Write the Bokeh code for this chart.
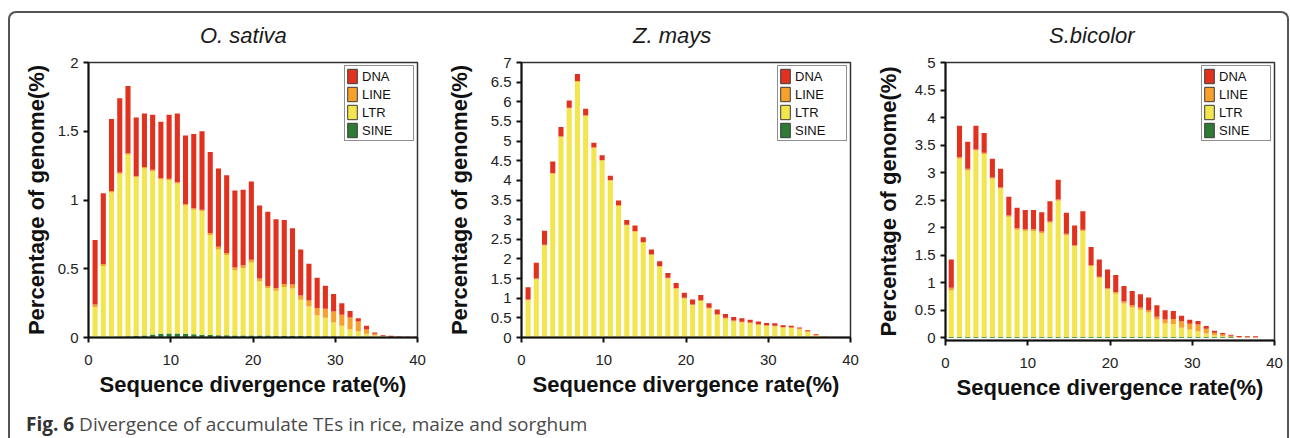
from bokeh.plotting import figure
from bokeh.layouts import row, column
from bokeh.models import (ColumnDataSource, Legend, LegendItem, FixedTicker,
                          NumeralTickFormatter, Div)
from bokeh.transform import dodge
from bokeh.embed import file_html
from bokeh.resources import INLINE

# ---------------- data ----------------
types = ["SINE", "LTR", "LINE", "DNA"]
colors = {"DNA": "#E1321F", "LINE": "#F7A12C", "LTR": "#F2E54D", "SINE": "#2E7B33"}
x_ticks = [0, 10, 20, 30, 40]
titles = ["O. sativa", "Z. mays", "S.bicolor"]

bins_sativa = list(range(1, 41))
sativa_sine = [0.005, 0.005, 0.006, 0.008, 0.010, 0.012, 0.015, 0.022, 0.028, 0.030,
               0.030, 0.028, 0.024, 0.020, 0.018, 0.016, 0.016, 0.015, 0.015, 0.015,
               0.015, 0.014, 0.013, 0.013, 0.012, 0.012, 0.011, 0.010, 0.010, 0.009,
               0.008, 0.007, 0.006, 0.005, 0.004, 0.003, 0.001, 0.001, 0.0, 0.0]
sativa_ltr = [0.215, 0.515, 1.049, 1.182, 1.320, 1.153, 1.215, 1.188, 1.122, 1.115,
              1.090, 0.932, 0.906, 0.900, 0.727, 0.624, 0.584, 0.475, 0.490, 0.531,
              0.395, 0.346, 0.327, 0.354, 0.345, 0.263, 0.214, 0.152, 0.133, 0.101,
              0.077, 0.053, 0.040, 0.022, 0.011, 0.004, 0.002, 0.001, 0.001, 0.001]
sativa_line = [0.020, 0.015, 0.010, 0.010, 0.010, 0.010, 0.010, 0.010, 0.010, 0.010,
               0.010, 0.010, 0.010, 0.010, 0.015, 0.020, 0.015, 0.020, 0.020, 0.019,
               0.020, 0.015, 0.020, 0.023, 0.028, 0.030, 0.045, 0.053, 0.067, 0.080,
               0.080, 0.085, 0.070, 0.031, 0.012, 0.005, 0.003, 0.001, 0.001, 0.001]
sativa_dna = [0.470, 0.515, 0.525, 0.540, 0.490, 0.425, 0.390, 0.400, 0.410, 0.465,
              0.500, 0.500, 0.540, 0.570, 0.590, 0.570, 0.565, 0.560, 0.550, 0.570,
              0.530, 0.540, 0.500, 0.465, 0.410, 0.335, 0.266, 0.220, 0.167, 0.127,
              0.085, 0.048, 0.024, 0.027, 0.009, 0.007, 0.006, 0.005, 0.004, 0.004]
sativa_yticks = [0, 0.5, 1, 1.5, 2]

bins_mays = list(range(1, 41))
mays_sine = [0, 0, 0, 0, 0, 0, 0, 0, 0, 0,
             0, 0, 0, 0, 0, 0, 0, 0, 0, 0.015,
             0, 0, 0.015, 0, 0, 0, 0, 0, 0, 0,
             0, 0, 0, 0, 0, 0, 0, 0, 0, 0]
mays_ltr = [0.95, 1.48, 2.34, 4.17, 5.10, 5.83, 6.51, 5.64, 4.82, 4.50,
            3.99, 3.35, 2.85, 2.69, 2.41, 2.10, 1.80, 1.50, 1.24, 0.975,
            0.82, 0.93, 0.725, 0.57, 0.48, 0.41, 0.38, 0.36, 0.32, 0.29,
            0.28, 0.25, 0.24, 0.21, 0.14, 0.045, 0.015, 0.002, 0.002, 0.002]
mays_line = [0.02, 0.02, 0.02, 0.02, 0.02, 0.02, 0.02, 0.02, 0.02, 0.02,
             0.02, 0.02, 0.02, 0.02, 0.02, 0.02, 0.02, 0.02, 0.02, 0.02,
             0.02, 0.02, 0.02, 0.02, 0.02, 0.02, 0.02, 0.02, 0.02, 0.02,
             0.02, 0.02, 0.02, 0.02, 0.02, 0.02, 0.015, 0.002, 0.002, 0.002]
mays_dna = [0.31, 0.40, 0.36, 0.29, 0.24, 0.18, 0.18, 0.16, 0.12, 0.12,
            0.11, 0.12, 0.12, 0.14, 0.12, 0.12, 0.12, 0.12, 0.13, 0.13,
            0.13, 0.13, 0.115, 0.12, 0.10, 0.095, 0.09, 0.075, 0.07, 0.06,
            0.065, 0.045, 0.04, 0.025, 0.025, 0.015, 0.005, 0.008, 0.008, 0.008]
mays_yticks = [0, 0.5, 1, 1.5, 2, 2.5, 3, 3.5, 4, 4.5, 5, 5.5, 6, 6.5, 7]

bins_bicolor = list(range(1, 39))
bicolor_sine = [0.012, 0.012, 0.012, 0.012, 0.012, 0.012, 0.012, 0.012, 0.012, 0.012,
                0.012, 0.012, 0.012, 0.012, 0.012, 0.012, 0.012, 0.012, 0.012, 0.012,
                0.012, 0.012, 0.012, 0.012, 0.012, 0.012, 0.012, 0.012, 0.012, 0.012,
                0.012, 0.012, 0.012, 0.012, 0.012, 0.003, 0.003, 0.003]
bicolor_ltr = [0.848, 3.238, 3.028, 3.388, 3.328, 2.878, 2.698, 2.188, 1.948, 1.928,
               1.928, 1.888, 2.078, 2.478, 1.848, 1.648, 1.928, 1.288, 1.078, 0.868,
               0.788, 0.608, 0.538, 0.498, 0.448, 0.318, 0.248, 0.238, 0.168, 0.138,
               0.108, 0.063, 0.033, 0.016, 0.003, 0.002, 0.001, 0.001]
bicolor_line = [0.05, 0.03, 0.03, 0.02, 0.02, 0.02, 0.02, 0.02, 0.03, 0.03,
                0.03, 0.03, 0.02, 0.02, 0.03, 0.02, 0.02, 0.02, 0.02, 0.02,
                0.03, 0.04, 0.04, 0.04, 0.04, 0.05, 0.07, 0.09, 0.12, 0.105,
                0.12, 0.09, 0.045, 0.032, 0.02, 0.01, 0.004, 0.004]
bicolor_dna = [0.51, 0.57, 0.49, 0.43, 0.36, 0.34, 0.34, 0.34, 0.37, 0.35,
               0.35, 0.35, 0.37, 0.36, 0.38, 0.36, 0.34, 0.33, 0.31, 0.34,
               0.31, 0.28, 0.26, 0.24, 0.23, 0.21, 0.17, 0.145, 0.10, 0.072,
               0.065, 0.05, 0.035, 0.025, 0.02, 0.017, 0.02, 0.02]
bicolor_yticks = [0, 0.5, 1, 1.5, 2, 2.5, 3, 3.5, 4, 4.5, 5]

FONT = "Liberation Sans"


def panel(bins, sine, ltr, line, dna, yticks, y_range, frame_h,
          mb, bar_shift, ylab_standoff):
    p = figure(frame_width=329, frame_height=frame_h,
               x_range=(0, 40), y_range=y_range,
               output_backend="svg", toolbar_location=None,
               min_border_left=mb[0], min_border_top=mb[1],
               min_border_right=mb[2], min_border_bottom=mb[3],
               background_fill_color="white", border_fill_color="white")
    src = ColumnDataSource(dict(x=bins, SINE=sine, LTR=ltr, LINE=line, DNA=dna))
    p.vbar_stack(types, x=dodge("x", bar_shift), width=0.62, source=src,
                 fill_color=[colors[t] for t in types], line_color=None)

    # legend swatches (hidden renderers that only provide outlined swatches)
    items = []
    for t in ["DNA", "LINE", "LTR", "SINE"]:
        r = p.vbar(x="x", top=t, width=0.62, source=src, fill_color=colors[t],
                   line_color="#3a3a3a", line_width=1, visible=False)
        items.append(LegendItem(label=t, renderers=[r]))
    leg = Legend(items=items, location="top_right", margin=3, padding=1,
                 spacing=0, glyph_width=12, glyph_height=18, label_height=18,
                 label_width=50, label_standoff=4,
                 label_text_font=FONT, label_text_font_size="13px",
                 label_text_color="#111",
                 inactive_fill_alpha=0,
                 border_line_color="#222", border_line_width=1.5,
                 background_fill_color="white", background_fill_alpha=1)
    p.add_layout(leg)

    p.grid.visible = False
    p.outline_line_color = "#333333"
    p.outline_line_width = 1.5

    p.xaxis.ticker = FixedTicker(ticks=x_ticks)
    p.yaxis.ticker = FixedTicker(ticks=yticks)
    p.yaxis.formatter = NumeralTickFormatter(format="0.[0]")
    for ax in (p.xaxis, p.yaxis):
        ax.axis_line_color = "#111"
        ax.axis_line_width = 2
        ax.major_tick_line_color = "#111"
        ax.major_tick_line_width = 2
        ax.major_tick_in = 0
        ax.major_tick_out = 5
        ax.minor_tick_line_color = None
        ax.major_label_text_font = FONT
        ax.major_label_text_font_size = "15px"
        ax.major_label_text_color = "#222"
        ax.axis_label_text_font = FONT
        ax.axis_label_text_font_size = "22px"
        ax.axis_label_text_font_style = "bold"
        ax.axis_label_text_color = "#111"
    p.xaxis.axis_label = "Sequence divergence rate(%)"
    p.yaxis.axis_label = "Percentage of genome(%)"
    p.xaxis.major_label_standoff = 12
    p.xaxis.axis_label_standoff = 4
    p.yaxis.major_label_standoff = 5
    p.yaxis.axis_label_standoff = ylab_standoff
    return p


def title_div(text, width, pad_left):
    return Div(text=('<div style="font-family:\'Liberation Sans\';font-style:italic;'
                     'font-size:22px;color:#1a1a1a;line-height:26px;padding-top:10px;'
                     'padding-left:%dpx;white-space:nowrap;">%s</div>') % (pad_left, text),
               width=width, height=41, margin=0)


p1 = panel(bins_sativa, sativa_sine, sativa_ltr, sativa_line, sativa_dna,
           sativa_yticks, (0, 2), 275, (78, 4, 23, 72), -0.2, 6)
p2 = panel(bins_mays, mays_sine, mays_ltr, mays_line, mays_dna,
           mays_yticks, (0, 7), 275, (81, 4, 20, 72), -0.2, 16)
p3 = panel(bins_bicolor, bicolor_sine, bicolor_ltr, bicolor_line, bicolor_dna,
           bicolor_yticks, (-0.05, 5), 278, (75, 8, 13, 65), -0.3, 11)

heads = row(title_div(titles[0], 430, 190),
            title_div(titles[1], 430, 193),
            title_div(titles[2], 417, 179))

caption = Div(text='<div style="font-family:\'Open Sans\';font-size:19px;color:#4a4a4a;'
                   'line-height:20px;padding-left:16px;padding-top:9px;white-space:nowrap;">'
                   '<span style="font-weight:700;color:#333">Fig.&nbsp;6</span> '
                   'Divergence of accumulate TEs in rice, maize and sorghum</div>',
              width=1277, height=33, margin=0)

charts = row(p1, p2, p3)
layout = column(heads, charts, caption,
                styles={"margin-left": "8px", "margin-top": "11px",
                        "border-left": "2px solid #555",
                        "border-top": "2px solid #555",
                        "border-right": "2px solid #555",
                        "border-top-left-radius": "8px",
                        "border-top-right-radius": "8px"})

open("out.html", "w").write(file_html(layout, INLINE))
